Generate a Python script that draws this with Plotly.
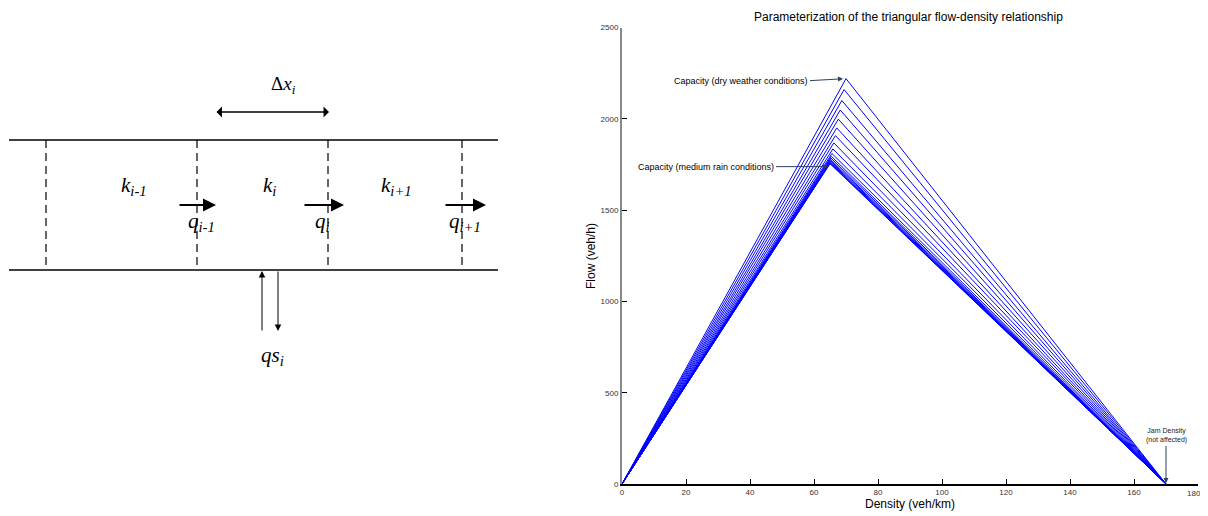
import plotly.graph_objects as go

# ---------------- data ----------------
critical_density = [70.0, 69.4, 68.7, 68.2, 67.6, 67.1, 66.7, 66.2, 65.9, 65.6,
                    65.4, 65.3, 65.2, 65.2, 65.1, 65.1, 65.0, 65.0]
capacity = [2220, 2160, 2100, 2048, 1998, 1950, 1908, 1868, 1835, 1810,
            1795, 1785, 1777, 1770, 1765, 1760, 1757, 1754]
jam_density = 170
x_ticks = [0, 20, 40, 60, 80, 100, 120, 140, 160, 180]
x_tick_labels = ["0", "20", "40", "60", "80", "100", "120", "140", "160", "180"]
y_ticks = [0, 500, 1000, 1500, 2000, 2500]

OFF = 8  # page body margin
W, H = 1200, 508


def px(x):  # page pixel -> paper x
    return (x - OFF) / W


def py(y):  # page pixel -> paper y
    return 1 - (y - OFF) / H


fig = go.Figure()

for kc, qc in zip(critical_density, capacity):
    fig.add_trace(go.Scatter(x=[0, kc, jam_density], y=[0, qc, 0], mode="lines",
                             line=dict(color="#0000ff", width=1), showlegend=False,
                             hoverinfo="skip", xaxis="x", yaxis="y"))

fig.add_trace(go.Scatter(x=[100], y=[100], mode="markers", marker=dict(opacity=0),
                         showlegend=False, hoverinfo="skip", xaxis="x2", yaxis="y2"))

fig.update_layout(
    width=W, height=H, margin=dict(l=0, r=0, t=0, b=0),
    paper_bgcolor="white", plot_bgcolor="rgba(0,0,0,0)",
    font=dict(family="Liberation Sans, Arial, sans-serif", color="#000"),
    xaxis=dict(domain=[px(622), px(1198)], range=[0, 180], tickvals=x_ticks,
               ticktext=x_tick_labels[:-1] + [""],
               ticks="inside", ticklen=5, tickcolor="#000", showline=True,
               linecolor="#000", linewidth=1.5, showgrid=False, zeroline=False,
               tickfont=dict(size=8, color="#333"), anchor="y", automargin=False,
               ticklabeloverflow="allow"),
    yaxis=dict(domain=[py(484), py(27.5)], range=[0, 2500], tickvals=y_ticks,
               ticks="inside", ticklen=5, tickcolor="#000", showline=True,
               linecolor="#888", linewidth=2, showgrid=False, zeroline=False,
               tickfont=dict(size=8, color="#333"), anchor="x", automargin=False,
               ticklabeloverflow="allow"),
    xaxis2=dict(domain=[0, 596 / W], range=[OFF, OFF + 596], visible=False, anchor="y2"),
    yaxis2=dict(domain=[0, 1], range=[OFF + H, OFF], visible=False, anchor="x2"),
)

ann = []
# last x tick label, nudged left so it stays inside the page
ann.append(dict(text=x_tick_labels[-1], x=x_ticks[-1], y=0, xref="x", yref="y",
                showarrow=False, xanchor="center", yanchor="middle", xshift=-4,
                yshift=-9, font=dict(size=8, color="#333")))
ann.append(dict(text="Parameterization of the triangular flow-density relationship",
                x=px(908), y=py(17), xref="paper", yref="paper", showarrow=False,
                xanchor="center", yanchor="middle", font=dict(size=12)))
ann.append(dict(text="Density (veh/km)", x=px(910), y=py(504), xref="paper",
                yref="paper", showarrow=False, xanchor="center", yanchor="middle",
                font=dict(size=12)))
ann.append(dict(text="Flow (veh/h)", x=px(591), y=py(256), xref="paper",
                yref="paper", showarrow=False, textangle=-90, xanchor="center",
                yanchor="middle", font=dict(size=12)))

ann.append(dict(text="Capacity (dry weather conditions)", x=critical_density[0],
                y=capacity[0], xref="x", yref="y", ax=-36, ay=2, xanchor="right",
                showarrow=True, arrowhead=2, arrowsize=1, arrowwidth=1, standoff=3,
                font=dict(size=9)))
ann.append(dict(text="Capacity (medium rain conditions)", x=64.7, y=1738,
                xref="x", yref="y", ax=-53, ay=0, xanchor="right",
                showarrow=True, arrowhead=2, arrowsize=1, arrowwidth=1, standoff=1,
                font=dict(size=9)))
ann.append(dict(text="Jam Density<br>(not affected)", x=jam_density, y=0,
                xref="x", yref="y", ax=0, ay=-38, yanchor="bottom",
                showarrow=True, arrowhead=2, arrowsize=1, arrowwidth=1, standoff=1,
                font=dict(size=7, color="#222")))

# ---------------- left diagram (page-pixel coords on x2/y2) ----------------
shapes = []
for yy in [140, 270]:
    shapes.append(dict(type="line", xref="x2", yref="y2", x0=9, x1=498, y0=yy, y1=yy,
                       line=dict(color="#000", width=1.6)))
for xx in [46, 197, 328, 462]:
    shapes.append(dict(type="line", xref="x2", yref="y2", x0=xx, x1=xx, y0=140, y1=270,
                       line=dict(color="#000", width=1.2, dash="8px,5px")))

serif = "Liberation Serif, Times New Roman, serif"
for txt, xx in [("<i>k<sub>i-1</sub></i>", 134), ("<i>k<sub>i</sub></i>", 269),
                ("<i>k<sub>i+1</sub></i>", 396)]:
    ann.append(dict(text=txt, x=xx, y=186, xref="x2", yref="y2", showarrow=False,
                    font=dict(family=serif, size=21)))
for x0, x1, txt, lx in [(178, 216, "<i>q<sub>i-1</sub></i>", 201),
                        (303, 344, "<i>q<sub>i</sub></i>", 322),
                        (444, 486, "<i>q<sub>i+1</sub></i>", 465)]:
    ann.append(dict(text="", x=x1, y=205, ax=x0, ay=205, xref="x2", yref="y2",
                    axref="x2", ayref="y2", showarrow=True, arrowhead=2,
                    arrowsize=1.3, arrowwidth=2, arrowcolor="#000"))
    ann.append(dict(text=txt, x=lx, y=222, xref="x2", yref="y2", showarrow=False,
                    font=dict(family=serif, size=21)))
ann.append(dict(text="", x=329, y=112, ax=215, ay=112, xref="x2", yref="y2",
                axref="x2", ayref="y2", showarrow=True, arrowhead=1, startarrowhead=1,
                arrowside="end+start", arrowsize=1.4, startarrowsize=1.4,
                arrowwidth=1.3, arrowcolor="#000"))
ann.append(dict(text="Δ<i>x<sub>i</sub></i>", x=283, y=85, xref="x2", yref="y2",
                showarrow=False, font=dict(family=serif, size=19)))
ann.append(dict(text="", x=262, y=271, ax=262, ay=332, xref="x2", yref="y2",
                axref="x2", ayref="y2", showarrow=True, arrowhead=2,
                arrowsize=1.3, arrowwidth=1, arrowcolor="#000"))
ann.append(dict(text="", x=278, y=331, ax=278, ay=270, xref="x2", yref="y2",
                axref="x2", ayref="y2", showarrow=True, arrowhead=2,
                arrowsize=1.3, arrowwidth=1, arrowcolor="#000"))
ann.append(dict(text="<i>qs<sub>i</sub></i>", x=272, y=356, xref="x2", yref="y2",
                showarrow=False, font=dict(family=serif, size=21)))

fig.update_layout(annotations=ann, shapes=shapes)
fig.write_html("out.html")
